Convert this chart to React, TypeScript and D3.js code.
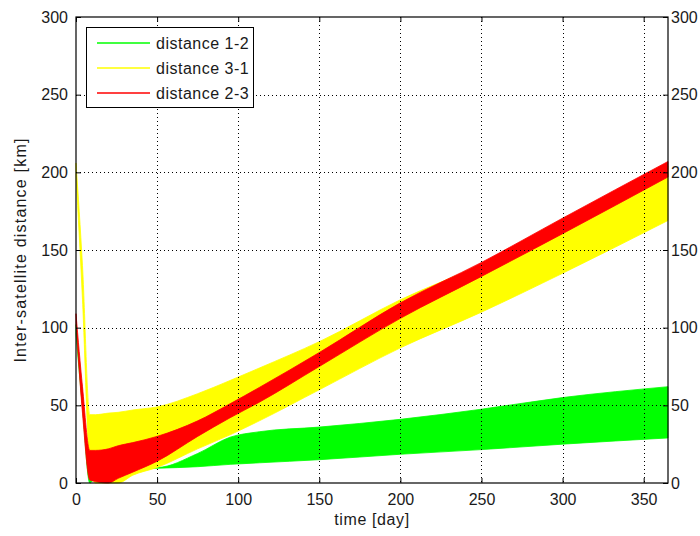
import { useEffect, useRef } from 'react';
import * as d3 from 'd3';

const days = [0, 4, 8.5, 12, 20, 26, 35, 50, 75, 95, 113, 150, 200, 250, 300, 365];
const greenHi = [102, 58, 8, 8, 9, 9.5, 10, 10, 19, 29.5, 33, 36, 41, 47.5, 55, 62];
const greenLo = [96, 48, 0, 4, 8, 8.5, 9, 9.5, 10.5, 12, 13, 15, 18.5, 21.5, 25, 29];
const yellowHi = [206, 140, 44, 44, 45, 45.5, 47, 49, 57.5, 66, 74, 91, 118, 141, 170, 204];
const yellowLo = [198, 118, 12, 0, 0, 0, 5, 10, 22, 31, 40, 60, 87, 110, 135, 169];
const redHi = [109, 62, 21, 21, 22, 24, 26, 30, 40, 51, 61.5, 84, 116, 142, 170.5, 207];
const redLo = [103, 45, 2, 1, 0, 3, 7, 14, 30, 42, 52, 75, 106, 133, 160.5, 197];

const xTicks = [0, 50, 100, 150, 200, 250, 300, 350];
const yTicks = [0, 50, 100, 150, 200, 250, 300];
const legendLabels = ['distance 1-2', 'distance 3-1', 'distance 2-3'];
const colors = ['#00ff00', '#ffff00', '#ff0000'];

const App = () => {
    const svgRef = useRef(null);
    const width = 700;
    const height = 536;
    const margins = { top: 17, right: 32, bottom: 53, left: 76 };
    const font = '"Liberation Sans", Arial, sans-serif';
    const ink = '#1a1a1a';

    useEffect(() => {
        const svg = d3.select(svgRef.current);
        svg.selectAll('*').remove();

        const x = d3.scaleLinear().domain([0, 365]).range([margins.left, width - margins.right]);
        const y = d3.scaleLinear().domain([0, 300]).range([height - margins.bottom, margins.top]);

        svg.append('rect').attr('width', width).attr('height', height).attr('fill', '#fff');

        // bands: green first, red on top
        const bands = [
            [greenLo, greenHi],
            [yellowLo, yellowHi],
            [redLo, redHi],
        ];
        bands.forEach(([lo, hi], k) => {
            const area = d3.area<number>()
                .curve(d3.curveMonotoneX)
                .x(i => x(days[i]))
                .y0(i => y(lo[i]))
                .y1(i => y(hi[i]));
            svg.append('path')
                .attr('d', area(days.map((_, i) => i)))
                .attr('fill', colors[k])
                .attr('stroke', colors[k])
                .attr('stroke-width', 0.8);
        });

        // dotted grid
        const grid = svg.append('g').attr('stroke', '#000').attr('stroke-dasharray', '1 3').attr('stroke-width', 1);
        xTicks.filter(t => t > 0).forEach(t => {
            grid.append('line')
                .attr('x1', Math.round(x(t)) + 0.5).attr('x2', Math.round(x(t)) + 0.5)
                .attr('y1', y(300)).attr('y2', y(0));
        });
        yTicks.filter(t => t > 0 && t < 300).forEach(t => {
            grid.append('line')
                .attr('y1', Math.round(y(t)) + 0.5).attr('y2', Math.round(y(t)) + 0.5)
                .attr('x1', x(0)).attr('x2', x(365));
        });

        const styleAxis = (g: any) => {
            g.attr('font-family', font).attr('font-size', 16);
            g.selectAll('text').attr('fill', ink);
            g.select('.domain').remove();
        };

        svg.append('g')
            .attr('transform', 'translate(' + x(0) + ',0)')
            .call(d3.axisLeft(y).tickValues(yTicks).tickSizeInner(-5).tickSizeOuter(0).tickPadding(8))
            .call(styleAxis);
        svg.append('g')
            .attr('transform', 'translate(' + x(365) + ',0)')
            .call(d3.axisRight(y).tickValues(yTicks).tickSizeInner(-5).tickSizeOuter(0).tickPadding(3))
            .call(styleAxis);
        svg.append('g')
            .attr('transform', 'translate(0,' + y(0) + ')')
            .call(d3.axisBottom(x).tickValues(xTicks).tickSizeInner(-5).tickSizeOuter(0).tickPadding(10.5))
            .call(styleAxis);
        svg.append('g')
            .attr('transform', 'translate(0,' + y(300) + ')')
            .call(d3.axisTop(x).tickValues(xTicks).tickSizeInner(-5).tickSizeOuter(0).tickFormat(() => ''))
            .call(styleAxis);

        // frame
        svg.append('rect')
            .attr('x', x(0)).attr('y', y(300))
            .attr('width', x(365) - x(0)).attr('height', y(0) - y(300))
            .attr('fill', 'none').attr('stroke', '#000').attr('stroke-width', 1.2);

        // axis titles
        svg.append('text')
            .text('time [day]')
            .attr('x', (x(0) + x(365)) / 2)
            .attr('y', 525)
            .attr('text-anchor', 'middle')
            .attr('letter-spacing', 0.6)
            .attr('font-family', font).attr('font-size', 16).attr('fill', ink);
        svg.append('text')
            .text('Inter-satellite distance [km]')
            .attr('transform', 'translate(26,' + (y(0) + y(300)) / 2 + ') rotate(-90)')
            .attr('text-anchor', 'middle')
            .attr('letter-spacing', 1.2)
            .attr('font-family', font).attr('font-size', 16).attr('fill', ink);

        // legend
        const lg = svg.append('g');
        lg.append('rect')
            .attr('x', 86.5).attr('y', 27.5).attr('width', 167).attr('height', 80)
            .attr('fill', '#fff').attr('stroke', '#000');
        legendLabels.forEach((label, i) => {
            const ly = 43 + i * 25;
            lg.append('line')
                .attr('x1', 97).attr('x2', 150).attr('y1', ly).attr('y2', ly)
                .attr('stroke', colors[i]).attr('stroke-width', 1.5);
            lg.append('text')
                .text(label)
                .attr('x', 156).attr('y', ly + 6)
                .attr('letter-spacing', 0.5)
                .attr('font-family', font).attr('font-size', 16).attr('fill', ink);
        });
    }, []);

    return (
        <div>
            <svg ref={svgRef} width={width} height={height} style={{ position: 'absolute', left: 0, top: 0 }}></svg>
        </div>
    );
};

export default App;
